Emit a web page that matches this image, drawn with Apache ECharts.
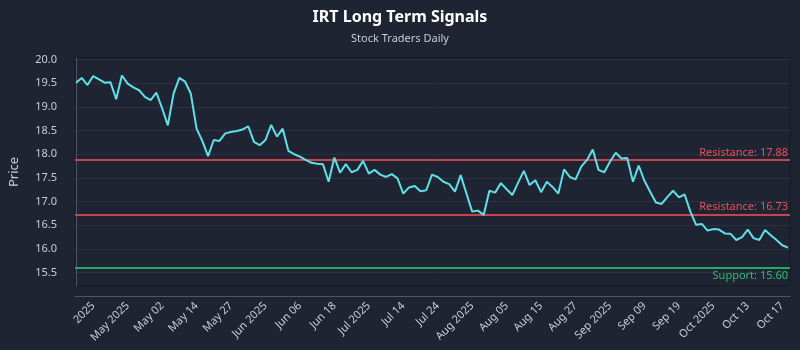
<!DOCTYPE html>
<html>
<head>
<meta charset="utf-8">
<script src="https://cdn.jsdelivr.net/npm/echarts@6/dist/echarts.min.js"></script>
<style>
html,body{margin:0;padding:0;background:#1f2433;}
#chart{width:800px;height:350px;}
</style>
</head>
<body>
<div id="chart"></div>
<script>
const prices = [
  19.51,19.61,19.46,19.65,19.58,19.51,19.52,19.16,19.66,19.49,
  19.41,19.35,19.21,19.14,19.30,18.97,18.61,19.28,19.61,19.53,
  19.28,18.54,18.28,17.96,18.30,18.28,18.44,18.47,18.49,18.52,
  18.59,18.26,18.19,18.30,18.62,18.37,18.54,18.07,18.00,17.95,
  17.88,17.82,17.80,17.79,17.42,17.93,17.61,17.79,17.62,17.67,
  17.86,17.59,17.67,17.57,17.52,17.58,17.49,17.17,17.30,17.33,
  17.22,17.24,17.57,17.52,17.42,17.37,17.21,17.56,17.17,16.79,
  16.81,16.72,17.23,17.19,17.39,17.26,17.14,17.40,17.65,17.35,
  17.45,17.20,17.42,17.31,17.17,17.68,17.52,17.47,17.74,17.88,
  18.10,17.67,17.62,17.84,18.03,17.91,17.92,17.42,17.76,17.44,
  17.21,16.98,16.95,17.10,17.23,17.09,17.15,16.79,16.51,16.53,
  16.39,16.42,16.41,16.33,16.32,16.19,16.25,16.41,16.23,16.19,
  16.40,16.29,16.19,16.08,16.03
];
const xTickLabels = ["2025","May 2025","May 02","May 14","May 27","Jun 2025","Jun 06","Jun 18","Jul 2025","Jul 14","Jul 24","Aug 2025","Aug 05","Aug 15","Aug 27","Sep 2025","Sep 09","Sep 19","Oct 2025","Oct 13","Oct 17"];
const xTickIndex = [3,9,15,21,27,33,39,45,51,57,63,69,75,81,87,93,99,105,111,117,123];
const yTicks = [15.5,16.0,16.5,17.0,17.5,18.0,18.5,19.0,19.5,20.0];
const resistanceLevels = [17.88, 16.73];
const supportLevels = [15.60];

const font = "'Noto Sans', 'DejaVu Sans', sans-serif";
const chart = echarts.init(document.getElementById('chart'), null, {renderer:'canvas'});

const markData = [];
resistanceLevels.forEach(v => markData.push({
  yAxis: v,
  lineStyle:{color:'#c9424c', width:2, type:'solid'},
  label:{show:true, position:'insideEndTop', formatter:'Resistance: ' + v.toFixed(2), color:'#e0545c', fontSize:11, fontFamily:font, distance:[2,2]}
}));
supportLevels.forEach(v => markData.push({
  yAxis: v,
  lineStyle:{color:'#28a865', width:2, type:'solid'},
  label:{show:true, position:'insideEndBottom', formatter:'Support: ' + v.toFixed(2), color:'#2fbf6e', fontSize:11, fontFamily:font, distance:[2,2]}
}));

chart.setOption({
  backgroundColor:'#1f2433',
  animation:false,
  title:{
    text:'IRT Long Term Signals',
    subtext:'Stock Traders Daily',
    left:'center',
    top:4,
    itemGap:8,
    textStyle:{color:'#ffffff', fontSize:16, fontWeight:'bold', fontFamily:font},
    subtextStyle:{color:'#c8ccd4', fontSize:11, fontFamily:font}
  },
  grid:{left:71, right:10, top:58, bottom:64, show:true, borderColor:'#151925', borderWidth:1, backgroundColor:'transparent'},
  xAxis:{
    type:'value',
    min:-0.17,
    max:124.35,
    offset:10,
    axisLine:{show:true, lineStyle:{color:'#4e5567'}},
    axisTick:{show:false},
    splitLine:{show:false},
    axisLabel:{
      customValues:xTickIndex,
      rotate:45,
      margin:8,
      color:'#c8ccd4',
      fontSize:11,
      fontFamily:font,
      formatter:function(v){ const k = xTickIndex.indexOf(Math.round(v)); return k>=0 ? xTickLabels[k] : ''; }
    }
  },
  yAxis:{
    type:'value',
    min:15.22,
    max:20.03,
    offset:10,
    name:'Price',
    nameLocation:'middle',
    nameGap:44,
    nameTextStyle:{color:'#c8ccd4', fontSize:13, fontFamily:font},
    axisLine:{show:true, lineStyle:{color:'#4e5567'}},
    axisTick:{show:false, customValues:yTicks},
    splitLine:{show:true, lineStyle:{color:'#2b3142', width:1}},
    axisLabel:{
      customValues:yTicks,
      color:'#c8ccd4',
      fontSize:11,
      fontFamily:font,
      margin:8,
      formatter:function(v){ return v.toFixed(1); }
    }
  },
  series:[{
    type:'line',
    data:prices.map((p,i)=>[i,p]),
    showSymbol:false,
    symbol:'none',
    lineStyle:{color:'#5fe0e8', width:2},
    itemStyle:{color:'#5fe0e8'},
    z:3,
    markLine:{
      silent:true,
      symbol:['none','none'],
      data:markData,
      z:2
    }
  }]
});
</script>
</body>
</html>
